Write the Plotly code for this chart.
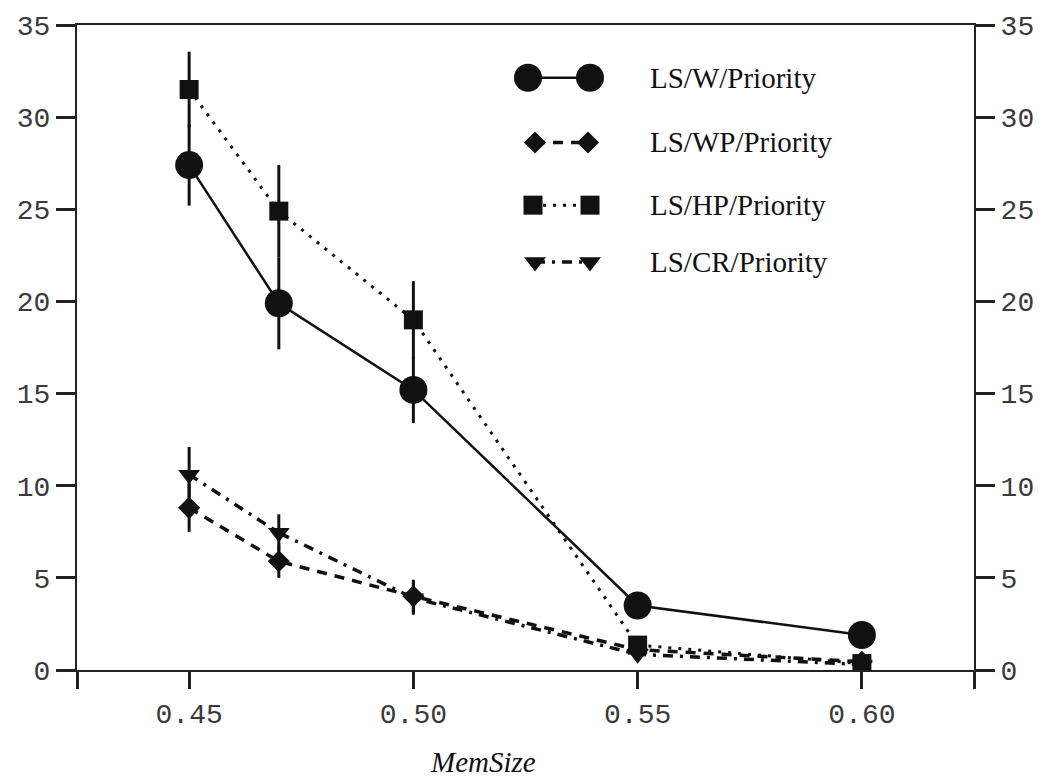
import plotly.graph_objects as go

# ---- data ----
mem_size = [0.45, 0.47, 0.50, 0.55, 0.60]

w_priority = [27.4, 19.9, 15.2, 3.5, 1.9]
w_err = [2.2, 2.5, 1.8, 0, 0]

wp_priority = [8.8, 5.9, 4.0, 1.1, 0.45]
wp_err = [1.3, 0.9, 0.9, 0, 0]

hp_priority = [31.5, 24.9, 19.0, 1.35, 0.35]
hp_err = [2.05, 2.5, 2.1, 0, 0]

cr_priority = [10.6, 7.45, 3.9, 0.85, 0.3]
cr_err = [1.5, 1.0, 0.9, 0, 0]

series_names = ["LS/W/Priority", "LS/WP/Priority", "LS/HP/Priority", "LS/CR/Priority"]

x_tickvals = [0.425, 0.45, 0.50, 0.55, 0.60, 0.625]
x_ticktext = ["", "0.45", "0.50", "0.55", "0.60", ""]
y_tickvals = [0, 5, 10, 15, 20, 25, 30, 35]

INK = "#111111"
AX = "#222222"

fig = go.Figure()

styles = [
    dict(y=w_priority, e=w_err, symbol="circle", size=28, dash="solid", width=2.5),
    dict(y=wp_priority, e=wp_err, symbol="diamond", size=17, dash="10px,8px", width=3.5),
    dict(y=hp_priority, e=hp_err, symbol="square", size=19, dash="3px,7px", width=3),
    dict(y=cr_priority, e=cr_err, symbol="triangle-down", size=19, dash="10px,7px,3px,7px", width=3.5),
]

order = [1, 3, 2, 0]
for i in order:
    s = styles[i]
    fig.add_trace(go.Scatter(
        x=mem_size, y=s["y"], mode="lines+markers", name=series_names[i],
        line=dict(color=INK, width=s["width"], dash=s["dash"]),
        marker=dict(symbol=s["symbol"], size=s["size"], color=INK, line=dict(width=0)),
        error_y=dict(type="data", array=s["e"], visible=True, color=INK, thickness=3, width=0),
        showlegend=False, xaxis="x", yaxis="y",
    ))

# right-hand mirrored axis (empty trace to activate it)
fig.add_trace(go.Scatter(x=[mem_size[0]], y=[w_priority[0]], mode="markers",
                         marker=dict(opacity=0), showlegend=False, hoverinfo="skip",
                         xaxis="x", yaxis="y2"))

# ---- manual legend on a pixel-space overlay ----
leg_rows_y = [75, 140, 203, 260]
leg_x_pairs = [(528, 590), (535, 588), (533, 590), (535, 590)]
for i in range(4):
    s = styles[i]
    x0, x1 = leg_x_pairs[i]
    fig.add_trace(go.Scatter(
        x=[x0, x1], y=[leg_rows_y[i]] * 2, mode="lines+markers",
        line=dict(color=INK, width=s["width"], dash=s["dash"]),
        marker=dict(symbol=s["symbol"], size=s["size"], color=INK, line=dict(width=0)),
        showlegend=False, hoverinfo="skip", xaxis="x3", yaxis="y3",
    ))
    fig.add_annotation(x=648, y=leg_rows_y[i], xref="x3", yref="y3", text=series_names[i],
                       showarrow=False, xanchor="left", yanchor="middle",
                       font=dict(family="Liberation Serif", size=29, color=INK))

fig.add_annotation(x=0.453, y=-0.142, xref="paper", yref="paper", text="<i>MemSize</i>",
                   showarrow=False, xanchor="center", yanchor="middle",
                   font=dict(family="Liberation Serif", size=29, color=INK))

tickfont = dict(family="Liberation Mono", size=28, color="#3a3a3a")

fig.update_layout(
    width=1049, height=780,
    margin=dict(l=77, r=75, t=22, b=110),
    paper_bgcolor="white", plot_bgcolor="white",
    showlegend=False,
    xaxis=dict(range=[0.425, 0.625], tickvals=x_tickvals, ticktext=x_ticktext,
               showline=True, linecolor=AX, linewidth=2, mirror=True,
               ticks="outside", ticklen=17, tickwidth=2.5, tickcolor=AX,
               showgrid=False, zeroline=False, tickfont=tickfont),
    yaxis=dict(range=[0, 35], tickvals=y_tickvals,
               showline=True, linecolor=AX, linewidth=2,
               ticks="outside", ticklen=19, tickwidth=2.5, tickcolor=AX,
               showgrid=False, zeroline=False, tickfont=tickfont),
    yaxis2=dict(range=[0, 35], tickvals=y_tickvals, overlaying="y", side="right",
                showline=True, linecolor=AX, linewidth=2,
                ticks="outside", ticklen=19, tickwidth=2.5, tickcolor=AX,
                showgrid=False, zeroline=False, tickfont=tickfont),
    xaxis3=dict(range=[77, 974], overlaying="x", anchor="y3", visible=False),
    yaxis3=dict(range=[670, 22], overlaying="y", anchor="x3", visible=False),
)

fig.write_html("out.html")
